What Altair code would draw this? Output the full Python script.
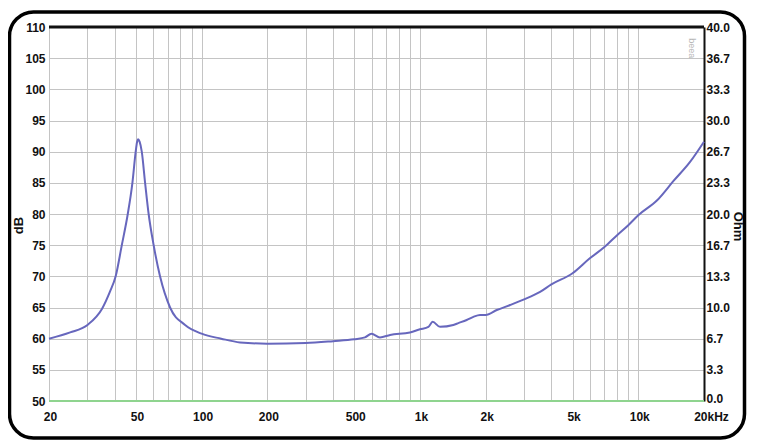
import altair as alt
import pandas as pd

# Impedance curve (frequency in Hz, level on the dB axis)
freq = [20, 25, 30, 35, 38, 40.4, 43.1, 45.9, 48.2, 49.9, 50.6, 51.2, 52.0, 53.2,
        55.1, 57.2, 60.3, 64.5, 71.7, 84, 100, 123, 150, 200, 300, 400, 500, 560,
        600, 656, 730, 900, 1000, 1093, 1144, 1236, 1422, 1500, 1637, 1757, 1885,
        2000, 2250, 2590, 3000, 3550, 4000, 5000, 6000, 7000, 8000, 9000, 10000,
        12200, 14500, 17300, 20000]
db = [60.0, 61.0, 62.2, 64.8, 67.5, 70.0, 75.0, 80.0, 85.0, 90.0, 91.5, 92.0, 91.6, 90.0,
      85.0, 80.0, 75.0, 70.0, 65.0, 62.2, 60.8, 60.0, 59.4, 59.2, 59.3, 59.6, 59.9, 60.2,
      60.8, 60.2, 60.6, 61.0, 61.5, 61.9, 62.7, 61.9, 62.2, 62.5, 63.0, 63.5, 63.8,
      63.8, 64.6, 65.4, 66.3, 67.5, 68.7, 70.5, 72.9, 74.7, 76.6, 78.2, 79.8,
      82.2, 85.3, 88.4, 91.6]

# Zero line (0 Ohm = 50 dB) and top border
zero_freq = [20, 20000]
zero_db = [50, 50]
top_db = [110, 110]

# Axis ticks and labels
x_grid = [20, 30, 40, 50, 60, 70, 80, 90,
          100, 200, 300, 400, 500, 600, 700, 800, 900,
          1000, 2000, 3000, 4000, 5000, 6000, 7000, 8000, 9000,
          10000, 20000]
x_label_vals = [20, 50, 100, 200, 500, 1000, 2000, 5000, 10000, 20000]
x_label_text = ["20", "50", "100", "200", "500", "1k", "2k", "5k", "10k", "20kHz"]
y_ticks = [50, 55, 60, 65, 70, 75, 80, 85, 90, 95, 100, 105, 110]
ohm_labels = ["0.0", "3.3", "6.7", "10.0", "13.3", "16.7", "20.0", "23.3",
              "26.7", "30.0", "33.3", "36.7", "40.0"]

wm_freq = [17600]
wm_db = [106.6]
wm_text = ["beea"]

FONT = "Liberation Sans"
W, H = 655, 374

curve = pd.DataFrame({"freq": freq, "db": db})
zero = pd.DataFrame({"freq": zero_freq, "db": zero_db})
top = pd.DataFrame({"freq": zero_freq, "db": top_db})
wm = pd.DataFrame({"freq": wm_freq, "db": wm_db, "t": wm_text})
one = pd.DataFrame({"k": [0]})

xscale = alt.Scale(type="log", domain=[20, 20000], nice=False)
yscale = alt.Scale(domain=[50, 110], nice=False, zero=False)

lv = "[" + ",".join(str(v) for v in x_label_vals) + "]"
lt = "[" + ",".join("'" + t + "'" for t in x_label_text) + "]"
x_expr = f"indexof({lv}, datum.value) >= 0 ? {lt}[indexof({lv}, datum.value)] : ''"
ohm_expr = "[" + ",".join("'" + t + "'" for t in ohm_labels) + "][round((datum.value-50)/5)]"

x_axis = alt.Axis(values=x_grid, labelExpr=x_expr, grid=True, ticks=False, domain=False,
                  title=None, labelOverlap=False, labelPadding=10, labelFlush=False,
                  labelOffset={"condition": {"test": "datum.value == 20000", "value": 7},
                               "value": 1})

frame = alt.Chart(one).mark_rect(fillOpacity=0, stroke="black", strokeWidth=3.5,
                                 cornerRadius=24).encode(
    x=alt.value(-39.5), x2=alt.value(695.5), y=alt.value(-15), y2=alt.value(411))

line = alt.Chart(curve).mark_line(color="#6767bd", strokeWidth=2,
                                  interpolate="monotone").encode(
    x=alt.X("freq:Q", scale=xscale, axis=x_axis),
    y=alt.Y("db:Q", scale=yscale,
            axis=alt.Axis(values=y_ticks, grid=True, ticks=False, domain=False,
                          labelPadding=4, title="dB", titleAngle=-90,
                          titleX=-31, titleY=198, titleAlign="center",
                          titleBaseline="middle")))

zero_line = alt.Chart(zero).mark_line(color="#8fd48f", strokeWidth=2).encode(
    x=alt.X("freq:Q", scale=xscale, axis=x_axis),
    y=alt.Y("db:Q", scale=yscale,
            axis=alt.Axis(orient="right", values=y_ticks, grid=False, ticks=False,
                          domain=True, domainColor="#111111", domainWidth=2,
                          labelExpr=ohm_expr, labelPadding=2, labelAlign="left",
                          labelOffset={"condition": {"test": "datum.value == 50", "value": -3},
                                       "value": 0},
                          title="Ohm", titleAngle=90, titleX=33, titleY=199,
                          titleAlign="center", titleBaseline="middle")))

top_line = alt.Chart(top).mark_line(color="#111111", strokeWidth=3).encode(
    x=alt.X("freq:Q", scale=xscale, axis=x_axis),
    y=alt.Y("db:Q", scale=yscale, axis=None))

watermark = alt.Chart(wm).mark_text(color="#b8b8b8", fontSize=9, angle=90,
                                    font=FONT, align="center", baseline="middle").encode(
    x=alt.X("freq:Q", scale=xscale, axis=x_axis),
    y=alt.Y("db:Q", scale=yscale, axis=None),
    text="t:N")

chart = alt.layer(frame, line, zero_line, top_line, watermark).resolve_axis(
    y="independent").properties(
    width=W, height=H,
    autosize=alt.AutoSizeParams(type="none"),
    padding={"left": 41, "top": 19, "right": 44, "bottom": 40},
    background="white",
).configure_view(stroke=None).configure_axis(
    labelFont=FONT, labelFontSize=12, labelFontWeight="bold", labelColor="#111111",
    titleFont=FONT, titleFontSize=13, titleFontWeight="bold", titleColor="#111111",
    gridColor="#c4c4c4", gridWidth=1, gridOpacity=1)

chart.save("out.html", embed_options={"renderer": "svg", "actions": False})
